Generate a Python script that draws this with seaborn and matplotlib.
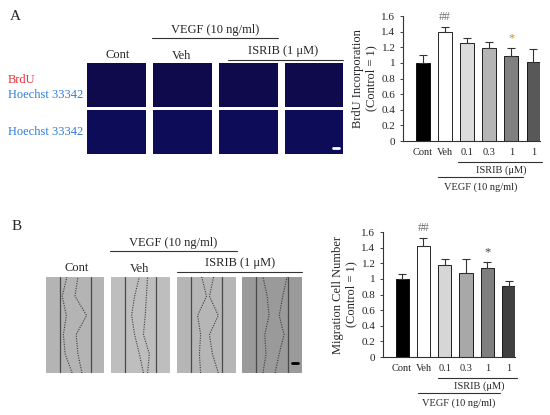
import numpy as np
import pandas as pd
import matplotlib
matplotlib.use("Agg")
import matplotlib.pyplot as plt
import matplotlib.transforms as mtransforms
import seaborn as sns

# data
groups = ["Cont", "Veh", "0.1", "0.3", "1", "1 "]
tick_labels = ["Cont", "Veh", "0.1", "0.3", "1", "1"]
brdu_mean = [1.00, 1.40, 1.25, 1.19, 1.09, 1.01]
brdu_err = [0.10, 0.06, 0.07, 0.08, 0.10, 0.17]
migr_mean = [1.00, 1.42, 1.18, 1.07, 1.14, 0.91]
migr_err = [0.06, 0.10, 0.07, 0.19, 0.07, 0.06]
brdu_colors = ["#000000", "#ffffff", "#dcdcdc", "#b5b5b5", "#808080", "#585858"]
migr_colors = ["#000000", "#ffffff", "#d6d6d6", "#a8a8a8", "#7f7f7f", "#404040"]
y_ticks = [0, 0.2, 0.4, 0.6, 0.8, 1, 1.2, 1.4, 1.6]
y_tick_labels = ["0", "0.2", "0.4", "0.6", "0.8", "1", "1.2", "1.4", "1.6"]

sns.set_style("white")
plt.rcParams["font.family"] = ["Liberation Serif", "DejaVu Serif"]

W, H = 550, 415
fig = plt.figure(figsize=(5.5, 4.15), dpi=100)


def px_axes(x0, y0, x1, y1):
    return fig.add_axes([x0 / W, 1 - y1 / H, (x1 - x0) / W, (y1 - y0) / H])


def ftext(x, y, s, **kw):
    fig.text(x / W, 1 - y / H, s, **kw)


def fline(x0, x1, y):
    fig.add_artist(plt.Line2D([x0 / W, x1 / W], [1 - y / H, 1 - y / H],
                              color="#333333", lw=0.8))


def bar_chart(rect, means, errs, colors, ylabel, star_color, isrib_span, vegf_span):
    ax = px_axes(*rect)
    df = pd.DataFrame({"group": groups, "value": means})
    sns.barplot(data=df, x="group", y="value", hue="group", palette=colors,
                edgecolor="black", linewidth=0.6, width=0.62, legend=False,
                errorbar=None, ax=ax)
    ax.errorbar(range(len(means)), means, yerr=[np.zeros(len(errs)), errs],
                fmt="none", ecolor="#333333", elinewidth=0.8, capsize=3, capthick=0.8)
    ax.set_ylim(0, 1.6)
    ax.set_xlim(-0.9, 5.3)
    ax.set_yticks(y_ticks)
    ax.set_yticklabels(y_tick_labels, fontsize=8)
    ax.set_xticks(range(len(groups)))
    ax.set_xticklabels(tick_labels, fontsize=7.5)
    ax.tick_params(axis="x", length=0, pad=5)
    ax.tick_params(axis="y", length=2.5, width=0.6, direction="out", pad=3, left=True)
    ax.set_xlabel("")
    ax.set_ylabel(ylabel, fontsize=9, linespacing=1.15, labelpad=3)
    for s in ["top", "right"]:
        ax.spines[s].set_visible(False)
    for s in ["left", "bottom"]:
        ax.spines[s].set_color("#333333")
        ax.spines[s].set_linewidth(0.8)
    ax.text(1, means[1] + errs[1] + 0.05, "##", ha="center", va="bottom",
            fontsize=8.5, color="#707070")
    ax.text(4, means[4] + errs[4] + 0.05, "*", ha="center", va="bottom",
            fontsize=9, color=star_color)
    tr = mtransforms.blended_transform_factory(ax.transData, ax.transAxes)
    ax.plot(isrib_span, [-0.17, -0.17], color="#333333", lw=0.8,
            transform=tr, clip_on=False)
    ax.text(sum(isrib_span) / 2 + 0.05, -0.235, "ISRIB (μM)", transform=tr,
            ha="center", va="center", fontsize=7.5)
    ax.plot(vegf_span, [-0.29, -0.29], color="#333333", lw=0.8,
            transform=tr, clip_on=False)
    ax.text(sum(vegf_span) / 2, -0.37, "VEGF (10 ng/ml)", transform=tr,
            ha="center", va="center", fontsize=7.5)
    return ax


bar_chart((403, 16, 540, 141), brdu_mean, brdu_err, brdu_colors,
          "BrdU Incorporation\n(Control = 1)", "#b8963c", [1.6, 5.4], [0.7, 4.55])
bar_chart((383, 232, 515, 357), migr_mean, migr_err, migr_colors,
          "Migration Cell Number\n(Control = 1)", "#444444", [1.7, 5.4], [0.75, 4.6])

# ---- panel A images (BrdU / Hoechst) ----
ftext(10, 16, "A", fontsize=11, va="center")
a_cols = [(87, 146), (153, 212), (219, 278), (285, 343)]
a_rows = [(63, 107), (110, 154)]
for r, (y0, y1) in enumerate(a_rows):
    for c, (x0, x1) in enumerate(a_cols):
        ia = px_axes(x0, y0, x1, y1)
        ia.set_facecolor("#0e0a4c" if r == 0 else "#0c0c58")
        ia.set_xticks([])
        ia.set_yticks([])
        for s in ia.spines.values():
            s.set_visible(False)
        if r == 1 and c == 3:
            ia.plot([0.83, 0.93], [0.13, 0.13], color="white", lw=2,
                    transform=ia.transAxes)
ftext(118, 55, "Cont", fontsize=9, ha="center", va="center")
ftext(182, 56, "Veh", fontsize=9, ha="center", va="center")
ftext(215, 30, "VEGF (10 ng/ml)", fontsize=9, ha="center", va="center")
fline(152, 278, 38)
ftext(283, 51, "ISRIB (1 μM)", fontsize=9, ha="center", va="center")
fline(228, 343, 60)
ftext(8, 80, "BrdU", fontsize=9, color="#e8323c", va="center")
ftext(8, 95, "Hoechst 33342", fontsize=9, color="#2d7fd8", va="center")
ftext(8, 132, "Hoechst 33342", fontsize=9, color="#2d7fd8", va="center")

# ---- panel B images (scratch wound) ----
ftext(12, 226, "B", fontsize=11, va="center")
b_cols = [(46, 104), (111, 170), (177, 236), (242, 302)]
b_faces = ["#b4b4b4", "#bebebe", "#b6b6b6", "#9a9a9a"]
front_y = [0.0, 0.2, 0.4, 0.6, 0.8, 1.0]
fronts_left = [[0.45, 0.33, 0.30, 0.35, 0.28, 0.36],
               [0.55, 0.48, 0.40, 0.35, 0.40, 0.48],
               [0.40, 0.38, 0.40, 0.35, 0.50, 0.42],
               [0.35, 0.40, 0.38, 0.45, 0.42, 0.35]]
fronts_right = [[0.62, 0.55, 0.52, 0.70, 0.50, 0.55],
                [0.62, 0.65, 0.55, 0.58, 0.60, 0.62],
                [0.70, 0.60, 0.55, 0.70, 0.55, 0.62],
                [0.55, 0.62, 0.70, 0.62, 0.68, 0.75]]
for c, (x0, x1) in enumerate(b_cols):
    ia = px_axes(x0, 277, x1, 373)
    ia.set_facecolor(b_faces[c])
    ia.set_xlim(0, 1)
    ia.set_ylim(0, 1)
    ia.set_xticks([])
    ia.set_yticks([])
    for s in ia.spines.values():
        s.set_visible(False)
    ia.axvline(0.24, color="#4a4a4a", lw=0.9)
    ia.axvline(0.77, color="#4a4a4a", lw=0.9)
    ia.plot(fronts_left[c], front_y, color="#3a3a3a", lw=0.8, ls=(0, (1, 1.2)))
    ia.plot(fronts_right[c], front_y, color="#3a3a3a", lw=0.8, ls=(0, (1, 1.2)))
    if c == 3:
        ia.plot([0.83, 0.93], [0.1, 0.1], color="black", lw=2)
ftext(77, 268, "Cont", fontsize=9, ha="center", va="center")
ftext(140, 269, "Veh", fontsize=9, ha="center", va="center")
ftext(173, 243, "VEGF (10 ng/ml)", fontsize=9, ha="center", va="center")
fline(110, 237, 251)
ftext(240, 263, "ISRIB (1 μM)", fontsize=9, ha="center", va="center")
fline(177, 302, 272)

fig.savefig("out.png", dpi=100)
